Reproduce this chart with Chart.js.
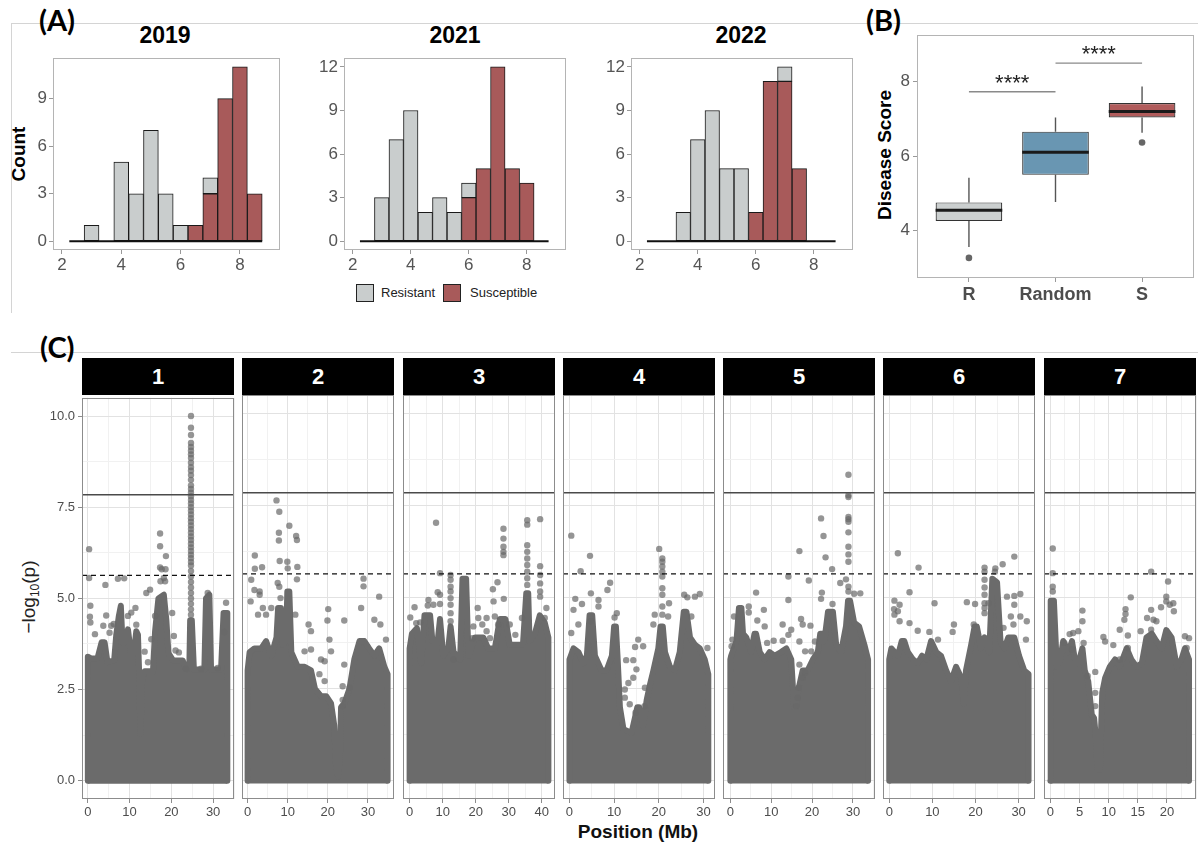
<!DOCTYPE html>
<html lang="en">
<head>
<meta charset="UTF-8" />
<title>Disease score distributions and genome-wide association</title>
<script src="https://cdn.jsdelivr.net/npm/chart.js"></script>
<style>
  body { margin: 0; background: #fff; }
  #page { position: relative; width: 1198px; height: 846px; overflow: hidden; background: #fff;
          font-family: "Liberation Sans", Arial, sans-serif; }
  #page canvas, #page .abs { position: absolute; }
  .rule { background: #d4d4d4; }
  .tag { font-family: Lato, "Open Sans", sans-serif; font-weight: bold; font-size: 29px; color: #000; }
  .year { font-weight: bold; font-size: 23px; color: #000; transform: translateX(-50%); }
  .vtitle { transform: translate(-50%, -50%) rotate(-90deg); white-space: nowrap; }
  .strip { background: #000; color: #fff; font-weight: bold; font-size: 22px; text-align: center;
           line-height: 37px; height: 37px; }
  .key { width: 16px; height: 16px; border: 1px solid #222; }
  .keytext { font-size: 13px; color: #222; }
</style>
</head>
<body>
<div id="page">
  <div class="abs rule" style="left:11px;top:23px;width:1187px;height:1px"></div>
  <div class="abs rule" style="left:11px;top:23px;width:1px;height:290px"></div>
  <div class="abs rule" style="left:11px;top:352px;width:1187px;height:1px"></div>

  <div class="abs tag" style="left:39px;top:2px">(A)</div>
  <div class="abs tag" style="left:866px;top:2px">(B)</div>
  <div class="abs tag" style="left:40px;top:329px">(C)</div>

  <div class="abs year" style="left:165px;top:22px">2019</div>
  <div class="abs year" style="left:455px;top:22px">2021</div>
  <div class="abs year" style="left:741px;top:22px">2022</div>
  <div class="abs vtitle" style="left:19px;top:154px;font-weight:bold;font-size:19px;color:#000">Count</div>
  <div class="abs vtitle" style="left:885px;top:155px;font-weight:bold;font-size:19px;color:#000">Disease Score</div>

  <div class="abs key" style="left:356px;top:284px;background:#c9cdcd"></div>
  <div class="abs keytext" style="left:381px;top:285px">Resistant</div>
  <div class="abs key" style="left:443px;top:284px;background:#a85a5a"></div>
  <div class="abs keytext" style="left:470px;top:285px">Susceptible</div>

  <div class="abs vtitle" style="left:30px;top:597px;font-size:19px;color:#222">&minus;log<sub style="font-size:12px">10</sub>(p)</div>
  <div class="abs" style="left:638px;top:832px;transform:translate(-50%,-50%);font-weight:bold;font-size:19px;color:#111;white-space:nowrap">Position (Mb)</div>
</div>

<script>
  // ---------- (A) histograms: counts per 0.5-wide score bin ----------
  const binCenters = [2.5, 3, 3.5, 4, 4.5, 5, 5.5, 6, 6.5, 7, 7.5, 8, 8.5];
  const binWidth = 0.5;
  const resistant2019 = [0, 1, 0, 5, 3, 7, 3, 1, 0, 1, 0, 0, 0];
  const susceptible2019 = [0, 0, 0, 0, 0, 0, 0, 0, 1, 3, 9, 11, 3];
  const resistant2021 = [0, 3, 7, 9, 2, 3, 2, 1, 0, 0, 0, 0, 0];
  const susceptible2021 = [0, 0, 0, 0, 0, 0, 0, 3, 5, 12, 5, 4, 0];
  const resistant2022 = [0, 0, 2, 7, 9, 5, 5, 0, 0, 1, 0, 0, 0];
  const susceptible2022 = [0, 0, 0, 0, 0, 0, 0, 2, 11, 11, 5, 0, 0];
  const histXTicks = [2, 4, 6, 8];
  const histYTicks = [0, 3, 6, 9, 12];

  // ---------- (B) disease score by group ----------
  const groupNames = ["R", "Random", "S"];
  const boxQ1 = [4.26, 5.5, 7.04];
  const boxMedian = [4.55, 6.11, 7.2];
  const boxQ3 = [4.76, 6.66, 7.43];
  const whiskerLow = [3.56, 4.77, 6.63];
  const whiskerHigh = [5.42, 7.04, 7.87];
  const boxOutliers = [[1, 3.27], [3, 6.37]];
  const sigPairs = [[1, 2], [2, 3]];
  const sigY = [7.73, 8.5];
  const sigLabels = ["****", "****"];
  const boxYTicks = [4, 6, 8];

  // ---------- (C) Manhattan plot ----------
  const chrNames = ["1", "2", "3", "4", "5", "6", "7"];
  const manYTicks = [0, 2.5, 5, 7.5, 10];
  const suggestiveLine = 5.63;
  const genomeWideLine = 7.84;
  const chrXTicks = [
    [0, 10, 20, 30], [0, 10, 20, 30], [0, 10, 20, 30, 40], [0, 10, 20, 30],
    [0, 10, 20, 30], [0, 10, 20, 30], [0, 5, 10, 15, 20]
  ];
  const chrXRange = [
    [-1.4, 35.0], [-1.4, 36.5], [-2.0, 44.0], [-1.45, 32.6],
    [-1.8, 35.4], [-1.45, 33.8], [-1.1, 25.0]
  ];

  // upper edge of the solid bulk of SNPs, [position Mb, -log10 p]
  const chr1Top = [[0,0],[0,3.4],[0.9,3.35],[2.3,3.35],[3.3,3.8],[4.0,3.8],[4.7,3.25],[6.3,3.3],[6.8,4.0],[7.4,4.5],[7.9,4.8],[8.3,3.8],[9.0,3.8],[9.6,4.15],[10.3,3.5],[11.0,3.5],[11.6,4.1],[12.0,4.0],[12.3,2.9],[12.6,1.3],[13.0,2.8],[13.6,3.0],[15.6,3.0],[16.1,4.1],[16.9,5.0],[18.2,5.1],[18.8,4.4],[19.3,3.5],[20.4,3.3],[22.7,3.3],[23.5,3.05],[24.3,3.1],[24.5,4.4],[24.9,4.4],[25.4,3.05],[27.9,3.05],[28.3,5.0],[29.1,5.1],[29.5,3.05],[31.9,3.05],[32.5,4.6],[33.4,4.6],[33.4,0]];
  const chr2Top = [[0,0],[0,3.0],[0.5,3.5],[1.7,3.6],[3.4,3.6],[4.6,3.8],[5.9,3.4],[7.2,3.9],[7.6,4.7],[8.3,4.7],[8.8,3.7],[9.6,3.8],[9.9,5.15],[10.4,5.15],[10.9,3.5],[12.5,3.1],[14.2,3.1],[15.8,3.0],[16.8,2.5],[18.3,2.3],[19.6,2.3],[20.8,2.1],[21.6,1.5],[22.1,0.3],[22.6,0.1],[23.0,0.6],[23.3,2.0],[24.1,2.1],[25.4,2.5],[26.6,3.3],[27.9,3.8],[29.1,3.8],[30.3,3.6],[31.6,3.4],[32.8,3.6],[34.1,3.1],[34.9,2.9],[34.9,0]];
  const chr3Top = [[0,0],[0,3.6],[0.7,4.0],[2.2,4.15],[3.5,3.2],[4.5,4.5],[6.2,4.5],[6.9,3.8],[8.5,3.8],[9.2,4.4],[10.2,3.4],[11.7,3.6],[12.4,4.2],[13.3,3.5],[15.3,3.3],[16.0,5.5],[17.1,5.5],[17.8,3.4],[19.8,3.9],[22.3,3.9],[23.8,3.6],[25.8,3.6],[27.3,4.4],[29.0,4.4],[30.3,3.7],[34.3,3.7],[35.3,5.1],[35.9,5.1],[36.3,3.8],[37.9,4.0],[39.4,4.5],[40.9,4.3],[42.0,3.9],[42.0,0]];
  const chr4Top = [[0,0],[0,3.3],[0.9,3.6],[2.0,3.5],[3.1,3.2],[3.9,3.4],[4.5,4.5],[5.1,4.5],[5.7,3.4],[7.2,3.0],[8.3,3.0],[9.5,3.4],[10.0,4.2],[10.4,4.2],[10.8,3.3],[11.3,2.0],[12.1,1.4],[13.9,1.3],[15.2,2.0],[15.6,2.0],[16.5,1.5],[17.3,2.2],[18.0,2.6],[18.8,3.0],[19.9,3.6],[20.4,4.2],[20.9,4.2],[21.4,3.5],[22.5,3.1],[23.6,3.0],[24.7,3.5],[25.6,4.6],[26.2,4.6],[27.0,3.9],[28.1,3.7],[29.2,3.6],[30.3,3.3],[31.1,2.9],[31.1,0]];
  const chr5Top = [[0,0],[0,3.3],[0.2,3.4],[1.5,3.8],[2.1,4.7],[2.7,4.7],[3.1,4.0],[3.9,3.9],[5.1,3.5],[5.9,4.0],[6.3,4.0],[7.2,3.5],[8.4,3.3],[9.6,3.5],[10.8,3.4],[12.4,3.5],[13.7,3.6],[14.9,3.3],[15.6,2.0],[16.1,2.0],[16.5,2.4],[17.7,3.0],[18.9,3.0],[20.2,3.3],[21.4,3.5],[22.0,4.0],[22.5,4.0],[23.0,3.8],[23.9,4.6],[25.1,4.6],[25.9,3.7],[27.1,3.5],[28.3,4.2],[28.8,4.9],[29.3,4.9],[30.3,4.3],[31.5,4.2],[32.8,3.7],[33.7,3.3],[33.7,0]];
  const chr6Top = [[0,0],[0,3.3],[0.5,3.6],[2.0,3.4],[2.9,3.8],[3.5,3.8],[4.3,3.5],[5.5,3.3],[6.6,3.2],[7.6,3.4],[8.6,3.3],[9.7,3.8],[10.9,3.5],[12.0,3.4],[13.2,3.0],[14.3,2.7],[15.5,3.1],[16.7,2.8],[17.3,2.1],[17.8,3.0],[19.0,3.7],[19.8,4.2],[20.3,4.2],[21.3,3.6],[22.1,3.9],[23.2,3.5],[23.9,5.5],[25.0,5.4],[25.8,3.8],[26.7,3.6],[27.6,3.9],[29.0,3.9],[30.1,3.4],[31.3,3.0],[32.3,2.9],[32.3,0]];
  const chr7Top = [[0,0],[0,3.0],[0.1,4.9],[0.6,4.9],[1.1,3.1],[1.7,3.3],[2.2,3.8],[3.1,3.5],[3.7,3.8],[4.2,3.3],[4.8,3.2],[5.5,3.6],[5.9,3.0],[6.5,2.7],[7.1,1.8],[7.5,1.7],[7.8,1.2],[8.1,0.3],[8.5,0.3],[8.9,2.4],[9.4,2.8],[10.2,3.1],[11.1,3.3],[11.9,3.1],[13.1,3.6],[13.9,3.3],[14.8,3.1],[15.7,3.2],[16.5,3.9],[17.4,4.0],[18.2,3.8],[19.1,3.6],[19.9,4.1],[20.8,3.9],[21.7,3.1],[22.5,3.3],[23.1,3.6],[23.8,3.3],[23.8,0]];

  // individual SNPs standing clear of the bulk
  const chr1PeakPos = 24.7;
  const chr1PeakValues = [10.0, 9.68, 9.48, 9.26, 9.15, 9.05, 8.95, 8.85, 8.72, 8.6, 8.5, 8.38, 8.25, 8.1, 8.0, 7.9, 7.8, 7.7, 7.6, 7.5, 7.4, 7.3, 7.2, 7.1, 7.0, 6.9, 6.8, 6.7, 6.6, 6.5, 6.4, 6.3, 6.2, 6.1, 6.0, 5.9, 5.75, 5.6, 5.45, 5.3, 5.15, 5.0, 4.85, 4.7, 4.55];
  const chr1Hits = [[0.3,6.35],[0.3,5.56],[0.6,4.8],[0.5,4.5],[0.6,4.34],[1.7,4.02],[4.2,5.37],[7.2,5.54],[8.7,5.55],[4.4,4.53],[3.7,4.25],[5.2,4.06],[5.6,4.25],[6.2,4.3],[9.6,4.52],[10.4,4.61],[11.4,4.74],[11.6,4.28],[13.6,3.54],[14.0,5.15],[14.9,5.24],[14.4,3.25],[15.2,3.88],[16.1,4.52],[17.3,6.78],[17.3,6.43],[18.7,6.16],[17.3,5.85],[17.7,5.8],[18.6,5.8],[18.2,5.56],[17.4,5.47],[18.5,5.47],[20.2,4.6],[20.6,3.97],[21.0,3.57],[21.8,3.52],[23.5,3.07],[28.7,5.15],[27.1,3.07],[31.1,3.09],[33.1,4.88],[32.7,4.08]];
  const chr2Hits = [[7.2,7.63],[7.9,7.32],[10.4,6.94],[7.8,6.75],[7.8,6.54],[12.1,6.66],[12.3,6.55],[1.8,6.13],[1.8,5.77],[3.6,5.81],[8.0,5.98],[9.9,5.96],[10.0,5.78],[12.4,5.82],[0.9,5.47],[7.5,5.38],[7.9,5.28],[8.2,4.97],[1.7,5.19],[3.0,5.15],[3.0,5.06],[12.3,5.48],[28.9,5.5],[28.9,5.29],[32.8,5.01],[0.75,4.88],[3.8,4.7],[5.9,4.7],[2.6,4.52],[4.6,4.52],[11.9,4.52],[20.1,4.67],[19.9,4.36],[15.2,4.25],[15.8,4.07],[24.1,4.36],[28.3,4.7],[31.6,4.38],[33.1,4.25],[34.5,3.84],[20.4,3.84],[20.8,3.52],[18.3,3.3],[19.2,3.25],[24.1,3.16],[17.9,2.9],[19.2,2.71],[23.7,2.57],[25.4,2.53],[23.7,2.2],[23.7,2.03],[14.2,3.52],[15.8,3.57]];
  const chr3Hits = [[8.0,7.02],[35.6,7.09],[35.6,6.97],[39.5,7.12],[28.4,6.86],[28.4,6.59],[28.4,6.37],[28.4,6.23],[28.4,6.14],[35.6,6.41],[35.6,6.23],[35.6,6.05],[35.6,5.87],[35.6,5.69],[35.6,5.51],[35.6,5.33],[39.5,5.84],[39.5,5.6],[39.5,5.37],[39.5,5.15],[39.5,5.01],[9.2,5.65],[12.4,5.6],[12.4,5.47],[12.4,5.28],[12.4,5.15],[12.4,4.97],[12.4,4.79],[12.4,4.56],[12.4,4.34],[26.6,5.4],[25.2,5.21],[25.4,4.88],[28.5,4.95],[8.5,5.13],[9.2,5.06],[5.7,4.92],[5.5,4.77],[7.2,4.79],[9.2,4.81],[1.5,4.72],[0.2,4.44],[2.0,4.29],[3.2,4.31],[20.6,4.7],[20.8,4.43],[19.3,4.2],[22.0,4.25],[23.3,4.43],[23.3,4.07],[25.8,4.47],[26.8,4.25],[30.3,4.25],[32.0,3.97],[34.0,4.43],[40.9,4.43],[41.4,4.7],[19.0,3.88],[24.3,3.88],[13.3,3.3]];
  const chr4Hits = [[0.4,6.67],[4.6,6.12],[2.5,5.7],[20.1,6.31],[20.8,6.05],[20.8,5.96],[20.8,5.83],[20.8,5.69],[20.8,5.56],[20.8,5.24],[20.8,5.06],[20.8,4.74],[20.8,4.52],[22.3,4.83],[26.4,4.99],[28.1,5.01],[29.2,5.08],[4.8,5.1],[4.8,4.34],[6.5,4.92],[8.5,5.19],[9.1,5.39],[1.3,4.95],[0.9,4.65],[2.8,4.81],[6.5,4.74],[10.6,4.56],[10.1,4.44],[2.0,4.25],[0.4,4.02],[16.5,3.66],[15.4,3.84],[14.7,3.64],[12.7,3.28],[14.3,3.28],[15.0,3.03],[14.3,2.8],[13.2,2.66],[12.4,2.48],[12.4,2.26],[13.5,2.08],[14.8,1.85],[16.9,2.53],[16.8,2.03],[18.8,4.25],[22.1,4.47],[19.1,4.52],[25.7,5.06],[27.3,4.47],[30.9,3.61]];
  const chr5Hits = [[28.9,8.33],[28.9,7.77],[28.9,7.72],[28.9,7.18],[28.9,7.12],[28.9,7.05],[28.9,6.76],[28.9,6.37],[28.9,6.16],[28.9,5.96],[22.2,7.14],[22.8,6.66],[16.9,6.25],[23.3,6.08],[24.9,5.76],[14.2,5.56],[19.2,5.45],[26.9,5.38],[28.3,5.48],[28.9,5.28],[28.9,5.15],[6.3,5.12],[22.4,5.12],[22.2,4.95],[30.3,5.09],[31.8,5.1],[14.2,4.92],[25.0,4.81],[8.2,4.65],[4.5,4.74],[4.5,4.58],[0.9,4.47],[8.4,4.2],[6.6,4.36],[12.8,4.25],[17.3,4.4],[17.7,4.25],[19.6,4.22],[14.2,3.97],[14.9,4.11],[16.9,3.79],[12.8,3.81],[10.6,3.81],[9.0,3.75],[0.5,3.84],[0.3,3.66],[18.3,3.52],[19.8,3.52],[20.7,3.79],[16.9,3.16],[17.7,2.8],[16.7,2.53],[16.5,2.26],[16.1,2.03],[18.3,2.94]];
  const chr6Hits = [[2.0,6.19],[6.8,5.8],[4.7,5.13],[1.2,4.9],[2.4,4.79],[1.1,4.67],[2.0,4.61],[2.4,4.34],[1.2,4.52],[4.7,4.29],[6.6,4.08],[10.5,4.83],[9.3,4.05],[11.3,3.84],[15.0,4.25],[14.7,4.05],[18.0,4.86],[19.9,4.81],[22.1,5.8],[22.1,5.69],[22.1,5.47],[22.1,5.26],[22.1,5.06],[22.1,4.83],[22.1,4.7],[22.1,4.56],[24.6,5.78],[24.5,5.69],[26.3,5.89],[29.0,6.1],[27.3,5.01],[29.0,5.03],[30.4,5.08],[29.0,4.79],[28.2,4.47],[28.8,4.25],[30.4,4.47],[31.9,4.34],[31.7,3.84],[23.0,4.83],[19.6,4.25],[26.5,4.16]];
  const chr7Hits = [[0.4,6.32],[0.4,5.65],[0.4,5.28],[0.4,5.15],[17.3,5.69],[20.2,5.42],[19.9,5.01],[19.9,4.88],[13.8,4.99],[20.5,4.79],[21.1,4.83],[21.2,4.61],[19.0,4.72],[12.9,4.67],[12.9,4.54],[12.7,4.38],[17.3,4.65],[16.6,4.43],[17.7,4.38],[18.2,4.34],[15.5,4.07],[13.3,3.95],[11.9,4.11],[9.4,3.79],[9.1,3.91],[10.8,3.69],[11.9,3.3],[13.3,3.61],[5.5,4.63],[5.5,4.34],[4.8,4.07],[3.9,4.02],[3.3,3.99],[2.4,3.75],[3.7,3.57],[5.7,3.75],[6.4,2.85],[7.7,2.96],[7.7,2.39],[7.7,2.03],[23.1,3.93],[23.8,3.88],[23.4,3.61],[17.3,4.11]];

  const chrTops = [chr1Top, chr2Top, chr3Top, chr4Top, chr5Top, chr6Top, chr7Top];
  const chrHits = [
    chr1Hits.concat(chr1PeakValues.map((v) => [chr1PeakPos, v])),
    chr2Hits, chr3Hits, chr4Hits, chr5Hits, chr6Hits, chr7Hits
  ];

  // ---------- shared helpers ----------
  const RES_COLOR = "#c9cdcd";
  const SUS_COLOR = "#a85a5a";
  const BOX_COLORS = ["#cbcfcf", "#6996b2", "#b15c5c"];
  const FONT = "'Liberation Sans', Arial, sans-serif";
  Chart.defaults.font.family = FONT;
  Chart.defaults.animation = false;
  Chart.defaults.events = [];
  Chart.defaults.plugins.legend.display = false;
  Chart.defaults.plugins.tooltip.enabled = false;

  const page = document.getElementById("page");

  function addCanvas(left, top, width, height) {
    const c = document.createElement("canvas");
    c.width = width;
    c.height = height;
    c.style.left = left + "px";
    c.style.top = top + "px";
    c.style.width = width + "px";
    c.style.height = height + "px";
    page.appendChild(c);
    return c;
  }

  function setTicks(values) {
    return (scale) => {
      scale.ticks = values.map((value) => ({ value }));
    };
  }

  function withMidpoints(values, lo, hi) {
    const step = values[1] - values[0];
    const out = [];
    for (let v = values[0] - step / 2; v <= hi + 1e-9; v += step / 2) {
      if (v >= lo - 1e-9) out.push(Math.round(v * 1000) / 1000);
    }
    return out;
  }

  const toXY = (pairs) => pairs.map(([x, y]) => ({ x, y }));

  const panelBorder = {
    id: "panelBorder",
    afterDatasetsDraw(chart, args, opts) {
      const { ctx, chartArea: a } = chart;
      ctx.save();
      ctx.strokeStyle = opts.color || "#999";
      ctx.lineWidth = 1;
      ctx.strokeRect(Math.round(a.left) + 0.5, Math.round(a.top) + 0.5,
                     Math.round(a.width) - 1, Math.round(a.height) - 1);
      ctx.restore();
    }
  };

  // ---------- (A) ----------
  function drawHistogram(plotLeft, yAxisW, plotW, resistant, susceptible, yMin, yMax) {
    const top = 56, plotH = 194, padT = 10, padR = 10, axisH = 30;
    const canvas = addCanvas(plotLeft - yAxisW, top - padT, yAxisW + plotW + padR, padT + plotH + axisH);
    const xMin = 1.7, xMax = 9.35;
    const bars = (counts) => binCenters.map((x, i) => ({ x, y: counts[i] }));
    const barStyle = {
      borderColor: "#1a1a1a", borderWidth: 1, borderSkipped: false,
      barPercentage: 1, categoryPercentage: 1, grouped: false
    };
    new Chart(canvas, {
      type: "bar",
      data: {
        datasets: [
          { label: "Susceptible", data: bars(susceptible), backgroundColor: SUS_COLOR, ...barStyle },
          { label: "Resistant", data: bars(resistant), backgroundColor: RES_COLOR, ...barStyle },
          {
            // zero-count bins show as a flat outline along the baseline
            type: "line",
            data: [
              { x: binCenters[0] - binWidth / 2, y: 0 },
              { x: binCenters[binCenters.length - 1] + binWidth / 2, y: 0 }
            ],
            borderColor: "#111", borderWidth: 2, pointRadius: 0, order: -1
          }
        ]
      },
      options: {
        responsive: false,
        layout: { padding: { left: 0, top: padT, right: padR, bottom: 0 } },
        plugins: { panelBorder: { color: "#b4b4b4" } },
        scales: {
          x: {
            type: "linear", min: xMin, max: xMax, stacked: true, offset: false,
            afterBuildTicks: setTicks(histXTicks),
            afterFit: (s) => { s.height = axisH; },
            ticks: { color: "#555", font: { size: 17 }, padding: 1, maxRotation: 0, autoSkip: false },
            grid: { offset: false, drawOnChartArea: false, tickLength: 4, tickColor: "#999" },
            border: { display: false }
          },
          y: {
            min: yMin, max: yMax, stacked: true,
            afterBuildTicks: setTicks(histYTicks.filter((v) => v <= yMax)),
            afterFit: (s) => { s.width = yAxisW; },
            ticks: { color: "#555", font: { size: 17 }, padding: 2 },
            grid: { drawOnChartArea: false, tickLength: 4, tickColor: "#999" },
            border: { display: false }
          }
        }
      },
      plugins: [panelBorder]
    });
  }

  // ---------- (B) ----------
  function drawBoxplot() {
    const plotLeft = 917, plotTop = 32, plotW = 278, plotH = 246;
    const yAxisW = 50, padT = 10, padR = 3, axisH = 34;
    const canvas = addCanvas(plotLeft - yAxisW, plotTop - padT, yAxisW + plotW + padR, padT + plotH + axisH);
    const BOX_W = 0.77;
    const xMin = 0.4, xMax = 3.6;

    const whiskers = [];
    const medians = [];
    groupNames.forEach((g, i) => {
      const x = i + 1;
      whiskers.push({ x, y: boxQ3[i] }, { x, y: whiskerHigh[i] }, { x, y: null },
                    { x, y: whiskerLow[i] }, { x, y: boxQ1[i] }, { x, y: null });
      medians.push({ x: x - BOX_W / 2, y: boxMedian[i] }, { x: x + BOX_W / 2, y: boxMedian[i] },
                   { x: x + 0.5, y: null });
    });
    const brackets = [];
    sigPairs.forEach(([a, b], i) => {
      brackets.push({ x: a, y: sigY[i] }, { x: b, y: sigY[i] }, { x: b, y: null });
    });

    const sigText = {
      id: "sigText",
      afterDatasetsDraw(chart) {
        const { ctx, scales } = chart;
        ctx.save();
        ctx.font = "22px " + FONT;
        ctx.fillStyle = "#222";
        ctx.textAlign = "center";
        ctx.textBaseline = "alphabetic";
        sigPairs.forEach(([a, b], i) => {
          ctx.fillText(sigLabels[i], scales.x.getPixelForValue((a + b) / 2),
                       scales.y.getPixelForValue(sigY[i]) - 2);
        });
        ctx.restore();
      }
    };

    new Chart(canvas, {
      type: "bar",
      data: {
        datasets: [
          {
            data: groupNames.map((g, i) => ({ x: i + 1, y: [boxQ1[i], boxQ3[i]] })),
            backgroundColor: BOX_COLORS, borderColor: "#333", borderWidth: 1.2,
            borderSkipped: false, barPercentage: BOX_W, categoryPercentage: 1, grouped: false, order: 3
          },
          { type: "line", data: whiskers, borderColor: "#555", borderWidth: 1.4, pointRadius: 0, order: 4 },
          { type: "line", data: medians, borderColor: "#1a1a1a", borderWidth: 3, pointRadius: 0, order: 1 },
          {
            type: "line", data: toXY(boxOutliers), showLine: false,
            pointRadius: 3.3, pointBackgroundColor: "#666", pointBorderWidth: 0, order: 1
          },
          { type: "line", data: brackets, borderColor: "#8a8a8a", borderWidth: 1.4, pointRadius: 0, order: 1 }
        ]
      },
      options: {
        responsive: false,
        layout: { padding: { left: 0, top: padT, right: padR, bottom: 0 } },
        plugins: { panelBorder: { color: "#b4b4b4" } },
        scales: {
          x: {
            type: "linear", min: xMin, max: xMax, offset: false,
            afterBuildTicks: setTicks([1, 2, 3]),
            afterFit: (s) => { s.height = axisH; },
            ticks: {
              callback: (v) => groupNames[v - 1], color: "#4d4d4d",
              font: { size: 18, weight: "bold" }, padding: 2, maxRotation: 0, autoSkip: false
            },
            grid: { offset: false, drawOnChartArea: false, tickLength: 4, tickColor: "#999" },
            border: { display: false }
          },
          y: {
            min: 2.73, max: 9.25,
            afterBuildTicks: setTicks(boxYTicks),
            afterFit: (s) => { s.width = yAxisW; },
            ticks: { color: "#555", font: { size: 17 }, padding: 3 },
            grid: { drawOnChartArea: false, tickLength: 4, tickColor: "#999" },
            border: { display: false }
          }
        }
      },
      plugins: [panelBorder, sigText]
    });
  }

  // ---------- (C) ----------
  const PANEL_TOP = 395, PANEL_W = 152, PANEL_H = 404, PANEL_STEP = 160.25;

  function drawChromosome(i) {
    const left = Math.round(82 + PANEL_STEP * i);
    const showY = i === 0;
    const padL = showY ? 82 : 8, padT = 8, padR = 8, axisH = 30;
    const canvas = addCanvas(left - padL, PANEL_TOP - padT, padL + PANEL_W + padR, padT + PANEL_H + axisH);

    const strip = document.createElement("div");
    strip.className = "abs strip";
    strip.style.left = left + "px";
    strip.style.top = PANEL_TOP - 37 + "px";
    strip.style.width = PANEL_W + "px";
    strip.textContent = chrNames[i];
    page.appendChild(strip);

    const [xMin, xMax] = chrXRange[i];
    const xMajor = chrXTicks[i];
    const xAll = withMidpoints(xMajor, xMin, xMax);
    const yAll = withMidpoints(manYTicks, -0.5, 10.5);
    const isMajor = (list, v) => list.some((t) => Math.abs(t - v) < 1e-6);

    new Chart(canvas, {
      type: "line",
      data: {
        datasets: [
          {
            data: [{ x: xMin, y: genomeWideLine }, { x: xMax, y: genomeWideLine }],
            borderColor: "#4a4a4a", borderWidth: 1.4, pointRadius: 0, order: 0
          },
          {
            data: [{ x: xMin, y: suggestiveLine }, { x: xMax, y: suggestiveLine }],
            borderColor: "#111", borderWidth: 1.4, borderDash: [5, 4], pointRadius: 0, order: 0
          },
          {
            data: toXY(chrHits[i]), showLine: false, pointRadius: 3.2,
            pointBackgroundColor: "rgba(104,104,104,0.7)", pointBorderWidth: 0, order: 1
          },
          {
            data: toXY(chrTops[i]), borderColor: "#6b6b6b", backgroundColor: "#6b6b6b",
            borderWidth: 6, borderJoinStyle: "round", borderCapStyle: "round",
            fill: { value: -0.08 }, pointRadius: 0, tension: 0, order: 2
          }
        ]
      },
      options: {
        responsive: false,
        layout: { padding: { left: showY ? 0 : padL, top: padT, right: padR, bottom: 0 } },
        plugins: { panelBorder: { color: "#8c8c8c" } },
        scales: {
          x: {
            type: "linear", min: xMin, max: xMax,
            afterBuildTicks: setTicks(xAll),
            afterFit: (s) => { s.height = axisH; },
            ticks: {
              callback: (v) => (isMajor(xMajor, v) ? String(v) : ""),
              color: "#4d4d4d", font: { size: 13 }, padding: 2, maxRotation: 0, autoSkip: false
            },
            grid: {
              color: (c) => (c.tick && isMajor(xMajor, c.tick.value) ? "#e2e2e2" : "#f1f1f1"),
              tickColor: (c) => (c.tick && isMajor(xMajor, c.tick.value) ? "#8c8c8c" : "rgba(0,0,0,0)"),
              tickLength: 4, lineWidth: 1
            },
            border: { display: false }
          },
          y: {
            type: "linear", min: -0.5, max: 10.5,
            afterBuildTicks: setTicks(yAll),
            afterFit: (s) => { s.width = showY ? padL : 0; },
            ticks: {
              display: showY,
              callback: (v) => (isMajor(manYTicks, v) ? v.toFixed(1) : ""),
              color: "#4d4d4d", font: { size: 13 }, padding: 3, autoSkip: false
            },
            grid: {
              color: (c) => (c.tick && isMajor(manYTicks, c.tick.value) ? "#e2e2e2" : "#f1f1f1"),
              tickColor: (c) => (c.tick && isMajor(manYTicks, c.tick.value) ? "#8c8c8c" : "rgba(0,0,0,0)"),
              drawTicks: showY, tickLength: 4, lineWidth: 1
            },
            border: { display: false }
          }
        }
      },
      plugins: [panelBorder]
    });
  }

  drawHistogram(53, 53, 227, resistant2019, susceptible2019, -0.55, 11.55);
  drawHistogram(344, 50, 222, resistant2021, susceptible2021, -0.6, 12.6);
  drawHistogram(631, 50, 222, resistant2022, susceptible2022, -0.6, 12.6);
  drawBoxplot();
  chrNames.forEach((name, i) => drawChromosome(i));
</script>
</body>
</html>
